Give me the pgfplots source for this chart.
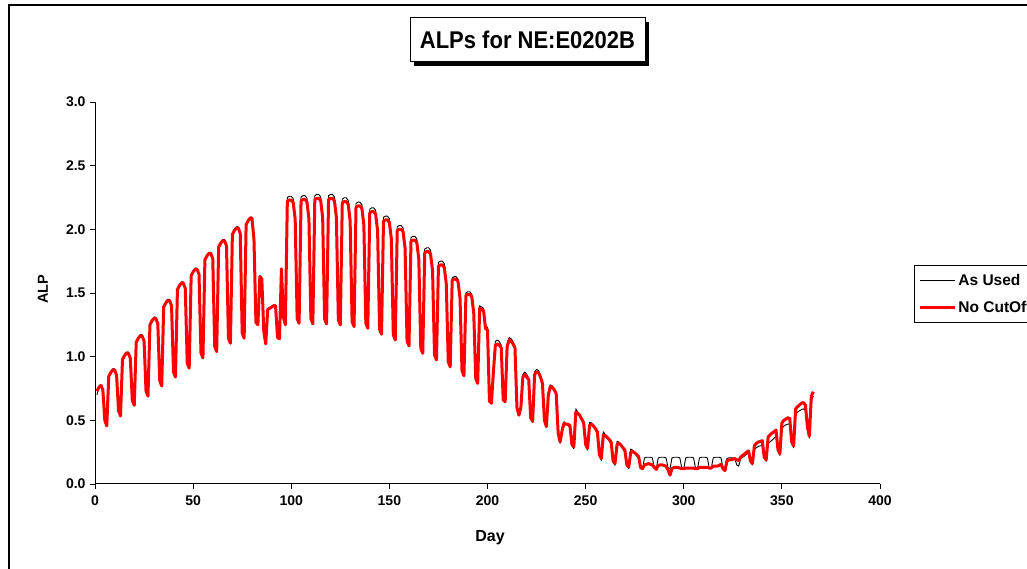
\documentclass[border=0pt]{standalone}
\usepackage{fontspec}
\setmainfont{Liberation Sans}
\usepackage{pgfplots}
\usepackage{pgfplotstable}
\pgfplotsset{compat=1.18}
\pgfplotstableread{
day used nocut
1 0.70 0.73
2 0.765 0.76
3 0.78 0.775
4 0.74 0.74
5 0.50 0.50
6 0.456 0.456
7 0.845 0.845
8 0.88 0.875
9 0.905 0.895
10 0.905 0.895
11 0.855 0.855
12 0.575 0.575
13 0.534 0.534
14 0.977 0.977
15 1.015 1.007
16 1.037 1.027
17 1.037 1.027
18 0.987 0.987
19 0.658 0.658
20 0.618 0.618
21 1.113 1.113
22 1.151 1.143
23 1.173 1.163
24 1.173 1.163
25 1.123 1.123
26 0.73 0.73
27 0.69 0.69
28 1.25 1.25
29 1.29 1.28
30 1.31 1.30
31 1.31 1.30
32 1.26 1.26
33 0.81 0.81
34 0.77 0.77
35 1.39 1.39
36 1.43 1.42
37 1.45 1.44
38 1.45 1.44
39 1.40 1.40
40 0.88 0.88
41 0.84 0.84
42 1.527 1.527
43 1.567 1.557
44 1.587 1.577
45 1.587 1.577
46 1.537 1.537
47 0.95 0.95
48 0.91 0.91
49 1.636 1.636
50 1.676 1.666
51 1.696 1.686
52 1.696 1.686
53 1.646 1.646
54 1.03 1.03
55 0.99 0.99
56 1.76 1.76
57 1.80 1.79
58 1.82 1.81
59 1.82 1.81
60 1.77 1.77
61 1.08 1.08
62 1.04 1.04
63 1.86 1.86
64 1.90 1.89
65 1.92 1.91
66 1.92 1.91
67 1.87 1.87
68 1.145 1.145
69 1.105 1.105
70 1.96 1.96
71 2.00 1.99
72 2.02 2.01
73 2.02 2.01
74 1.97 1.97
75 1.185 1.185
76 1.145 1.145
77 2.037 2.037
78 2.077 2.067
79 2.097 2.087
80 2.097 2.087
81 1.92 1.92
82 1.27 1.27
83 1.25 1.25
84 1.63 1.63
85 1.61 1.61
86 1.20 1.20
87 1.10 1.10
88 1.37 1.37
89 1.38 1.38
90 1.39 1.39
91 1.40 1.40
92 1.40 1.40
93 1.15 1.15
94 1.14 1.14
95 1.69 1.69
96 1.31 1.31
97 1.25 1.25
98 2.25 2.22
99 2.26 2.23
100 2.26 2.23
101 2.24 2.21
102 2.10 2.08
103 1.30 1.30
104 1.262 1.262
105 2.255 2.225
106 2.265 2.235
107 2.265 2.235
108 2.245 2.215
109 2.105 2.085
110 1.297 1.297
111 1.257 1.257
112 2.264 2.234
113 2.274 2.244
114 2.274 2.244
115 2.254 2.224
116 2.114 2.094
117 1.297 1.297
118 1.257 1.257
119 2.264 2.234
120 2.274 2.244
121 2.274 2.244
122 2.254 2.224
123 2.114 2.094
124 1.289 1.289
125 1.249 1.249
126 2.238 2.208
127 2.248 2.218
128 2.248 2.218
129 2.228 2.198
130 2.088 2.068
131 1.276 1.276
132 1.236 1.236
133 2.204 2.174
134 2.214 2.184
135 2.214 2.184
136 2.194 2.164
137 2.054 2.034
138 1.263 1.263
139 1.223 1.223
140 2.159 2.129
141 2.169 2.139
142 2.169 2.139
143 2.149 2.119
144 2.009 1.989
145 1.216 1.216
146 1.176 1.176
147 2.094 2.064
148 2.104 2.074
149 2.104 2.074
150 2.084 2.054
151 1.944 1.924
152 1.171 1.171
153 1.131 1.131
154 2.02 1.99
155 2.03 2.00
156 2.03 2.00
157 2.01 1.98
158 1.87 1.85
159 1.124 1.124
160 1.084 1.084
161 1.935 1.905
162 1.945 1.915
163 1.945 1.915
164 1.925 1.895
165 1.785 1.765
166 1.066 1.066
167 1.026 1.026
168 1.845 1.815
169 1.855 1.825
170 1.855 1.825
171 1.835 1.805
172 1.695 1.675
173 1.014 1.014
174 0.974 0.974
175 1.74 1.71
176 1.75 1.72
177 1.75 1.72
178 1.73 1.70
179 1.59 1.57
180 0.96 0.96
181 0.92 0.92
182 1.618 1.598
183 1.628 1.608
184 1.628 1.608
185 1.608 1.588
186 1.478 1.458
187 0.89 0.89
188 0.85 0.85
189 1.50 1.48
190 1.51 1.49
191 1.51 1.49
192 1.49 1.47
193 1.36 1.34
194 0.83 0.83
195 0.79 0.79
196 1.40 1.38
197 1.39 1.37
198 1.38 1.36
199 1.24 1.22
200 1.23 1.21
201 0.65 0.65
202 0.634 0.634
203 0.90 0.88
204 1.12 1.09
205 1.13 1.10
206 1.12 1.09
207 1.09 1.07
208 0.66 0.66
209 0.647 0.647
210 1.10 1.08
211 1.15 1.13
212 1.14 1.12
213 1.12 1.10
214 1.08 1.07
215 0.60 0.60
216 0.54 0.54
217 0.60 0.60
218 0.86 0.84
219 0.88 0.86
220 0.86 0.84
221 0.83 0.82
222 0.52 0.52
223 0.49 0.49
224 0.88 0.86
225 0.90 0.88
226 0.89 0.875
227 0.85 0.84
228 0.80 0.79
229 0.50 0.50
230 0.45 0.45
231 0.72 0.70
232 0.78 0.765
233 0.77 0.76
234 0.745 0.74
235 0.70 0.71
236 0.39 0.40
237 0.32 0.33
238 0.45 0.42
239 0.49 0.476
240 0.47 0.47
241 0.46 0.47
242 0.44 0.46
243 0.30 0.31
244 0.278 0.293
245 0.59 0.565
246 0.565 0.555
247 0.54 0.54
248 0.50 0.51
249 0.46 0.48
250 0.30 0.31
251 0.265 0.28
252 0.485 0.46
253 0.48 0.47
254 0.455 0.455
255 0.425 0.435
256 0.39 0.41
257 0.22 0.23
258 0.185 0.20
259 0.41 0.385
260 0.39 0.38
261 0.365 0.365
262 0.34 0.35
263 0.31 0.33
264 0.17 0.18
265 0.147 0.162
266 0.335 0.31
267 0.33 0.32
268 0.305 0.305
269 0.275 0.285
270 0.247 0.267
271 0.14 0.15
272 0.121 0.136
273 0.275 0.25
274 0.264 0.254
275 0.245 0.245
276 0.22 0.23
277 0.20 0.215
278 0.125 0.13
279 0.12 0.12
280 0.205 0.15
281 0.21 0.155
282 0.21 0.16
283 0.21 0.155
284 0.205 0.15
285 0.125 0.13
286 0.12 0.115
287 0.205 0.145
288 0.21 0.15
289 0.21 0.15
290 0.21 0.145
291 0.205 0.14
292 0.125 0.11
293 0.12 0.07
294 0.205 0.12
295 0.21 0.13
296 0.21 0.13
297 0.21 0.13
298 0.205 0.125
299 0.125 0.12
300 0.12 0.12
301 0.205 0.125
302 0.21 0.125
303 0.21 0.125
304 0.21 0.125
305 0.205 0.125
306 0.125 0.12
307 0.12 0.12
308 0.205 0.13
309 0.21 0.13
310 0.21 0.13
311 0.21 0.13
312 0.205 0.13
313 0.125 0.125
314 0.12 0.125
315 0.205 0.14
316 0.21 0.14
317 0.21 0.14
318 0.21 0.145
319 0.205 0.155
320 0.125 0.12
321 0.12 0.105
322 0.20 0.18
323 0.205 0.19
324 0.205 0.19
325 0.205 0.195
326 0.20 0.20
327 0.15 0.19
328 0.14 0.185
329 0.20 0.21
330 0.21 0.225
331 0.22 0.235
332 0.235 0.25
333 0.245 0.26
334 0.17 0.18
335 0.15 0.162
336 0.27 0.30
337 0.285 0.32
338 0.295 0.33
339 0.30 0.335
340 0.30 0.34
341 0.20 0.21
342 0.178 0.189
343 0.32 0.37
344 0.33 0.385
345 0.345 0.40
346 0.36 0.41
347 0.375 0.424
348 0.255 0.27
349 0.225 0.24
350 0.435 0.48
351 0.455 0.50
352 0.465 0.51
353 0.47 0.52
354 0.47 0.515
355 0.315 0.33
356 0.285 0.30
357 0.545 0.59
358 0.565 0.607
359 0.575 0.62
360 0.585 0.635
361 0.59 0.639
362 0.575 0.62
363 0.43 0.45
364 0.36 0.375
365 0.655 0.69
366 0.69 0.725
}\alpdata
\begin{document}
\begin{tikzpicture}[x=1pt,y=1pt]
\useasboundingbox (0,0) rectangle (1027,569);
\clip (0,0) rectangle (1027,569);
\fill[white] (0,0) rectangle (1027,569);
% outer chart frame (right and bottom edges fall outside the picture)
\draw[black, line width=2pt] (9,564) -- (1060,564) -- (1060,-20) -- (9,-20) -- cycle;
\begin{axis}[
  at={(95pt,85pt)}, anchor=south west,
  scale only axis, width=785pt, height=382pt,
  xmin=0, xmax=400, ymin=0, ymax=3,
  xtick={0,50,...,400}, ytick={0,0.5,...,3},
  axis x line*=bottom, axis y line*=left,
  axis line style={-, line width=1pt},
  tick align=outside, major tick length=5pt,
  tick style={black, line width=0.8pt},
  /pgf/number format/assume math mode=true,
  ticklabel style={font=\fontsize{14}{16}\selectfont\bfseries},
  xticklabel style={yshift=-3pt, /pgf/number format/.cd, fixed, precision=0},
  yticklabel style={xshift=-1pt, /pgf/number format/.cd, fixed, fixed zerofill, precision=1},
  legend style={at={(axis description cs:1.0433,0.5733)}, anchor=north west,
    draw=black, line width=0.8pt, font=\fontsize{15.5}{17}\selectfont\bfseries,
    inner xsep=4pt, inner ysep=6.5pt, row sep=11pt},
  legend cell align=left,
  legend image code/.code={\draw[#1] (0pt,0pt) -- (35pt,0pt);},
]
\addplot[black, line width=0.9pt, line join=round] table[x=day, y=used] {\alpdata};
\addlegendentry{As Used}
\addplot[red, line width=3pt, line join=round] table[x=day, y=nocut] {\alpdata};
\addlegendentry{No CutOff}
\end{axis}
% axis titles
\node[font=\fontsize{16}{18}\selectfont\bfseries] at (490,31) {Day};
\node[font=\fontsize{14.5}{16}\selectfont\bfseries, rotate=90] at (43,280) {ALP};
% chart title with shadow
\fill[black] (414,503) rectangle (649,547);
\draw[black, line width=1pt, fill=white] (410,507) rectangle (645,551);
\node[font=\fontsize{22}{26}\selectfont\bfseries] at (527.5,529) {\scalebox{1}[1.1]{ALPs for NE:E0202B}};
\end{tikzpicture}
\end{document}
